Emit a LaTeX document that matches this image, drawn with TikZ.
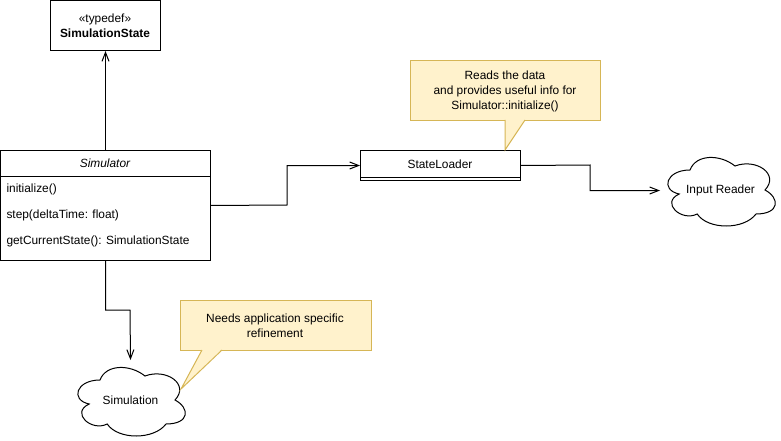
\documentclass[tikz,border=0pt]{standalone}
\usepackage{fontspec}
\setmainfont{Liberation Sans}
\usetikzlibrary{arrows.meta}

\definecolor{notefill}{HTML}{FFF2CC}
\definecolor{noteline}{HTML}{D6B656}

% draw.io style cloud outline inside the 120x80 box of a node
\newcommand{\cloudoutline}[1]{%
  \draw[line width=1pt, fill=white, x=120pt, y=-80pt, shift={(#1.north west)}]
    (0.25,0.25) .. controls (0.05,0.25) and (0,0.5) .. (0.16,0.55)
    .. controls (0,0.66) and (0.18,0.9) .. (0.31,0.8)
    .. controls (0.4,1) and (0.7,1) .. (0.8,0.8)
    .. controls (1,0.8) and (1,0.6) .. (0.875,0.5)
    .. controls (1,0.3) and (0.8,0.1) .. (0.625,0.2)
    .. controls (0.5,0.05) and (0.3,0.05) .. (0.25,0.25) -- cycle;}

\begin{document}
\begin{tikzpicture}[x=1pt, y=-1pt, line width=1pt,
  font=\fontsize{11.9}{15}\selectfont,
  umlbox/.style={draw, fill=white, rectangle, inner sep=0pt, anchor=north west},
  label/.style={inner sep=0pt, anchor=center},
  row/.style={inner sep=0pt, anchor=west},
  cloudnode/.style={inner sep=0pt, minimum width=120pt, minimum height=80pt, anchor=north west},
  notebox/.style={draw=noteline, fill=notefill, rectangle, inner sep=0pt, anchor=north west, align=center},
  arr/.style={-{Straight Barb[length=9pt,width=7pt]}},
  wire/.style={draw, line join=miter}]
\useasboundingbox (0,0) rectangle (781,441);

% --- typedef box
\node[umlbox, minimum width=110pt, minimum height=50pt] (ss) at (50,0) {};
\node[label] (ssst) at (105,19) {«typedef»};
\node[label] (ssname) at (105,33) {\bfseries SimulationState};

% --- Simulator class
\node[umlbox, minimum width=210pt, minimum height=110pt] (sim) at (0,150) {};
\draw (0,176) -- (210,176);
\node[label] (simname) at (105,163) {\itshape Simulator};
\node[row] (m1) at (6,189) {initialize()};
\node[row] (m2) at (6,215) {step(deltaTime: float)};
\node[row] (m3) at (6,241) {getCurrentState(): SimulationState};

% --- StateLoader class
\node[umlbox, minimum width=160pt, minimum height=30pt] (loader) at (360,150) {};
\draw (360,177) -- (520,177);
\node[label] (loadername) at (440,164) {StateLoader};

% --- clouds
\node[cloudnode] (ir) at (660,150) {};
\cloudoutline{ir}
\node[label] (irt) at (ir.center) {Input Reader};

\node[cloudnode] (simu) at (70,360) {};
\cloudoutline{simu}
\node[label] (simut) at (simu.center) {Simulation};

% --- notes
\node[notebox, minimum width=190pt, minimum height=60pt] (n1) at (410,60) {};
\fill[notefill] (505,119) -- (525,119) -- (505,150) -- cycle;
\draw[noteline, line join=miter] (525,120) -- (505,150) -- (505,120);
\node[label, align=center] (n1t) at (505,91) {Reads the data\\and provides useful info for\\Simulator::initialize()};

\node[notebox, minimum width=191pt, minimum height=50pt] (n2) at (180,300) {};
\fill[notefill] (202,349) -- (222,349) -- (181,389) -- cycle;
\draw[noteline, line join=miter] (222,350) -- (181,389) -- (202,350);
\node[label, align=center] (n2t) at (275,325.5) {Needs application specific\\refinement};

% --- connectors
\coordinate (b1) at (287,205);
\coordinate (b2) at (590,165);
\coordinate (b3) at (130,310);
\draw[arr] (sim.north) -- (ss.south);
\draw[arr, wire] (sim.east) -- (b1) |- (loader.west);
\draw[arr, wire] (loader.east) -- (b2) |- (ir.west);
\draw[arr, wire] (sim.south) |- (b3) -- (simu.north);
\end{tikzpicture}
\end{document}
